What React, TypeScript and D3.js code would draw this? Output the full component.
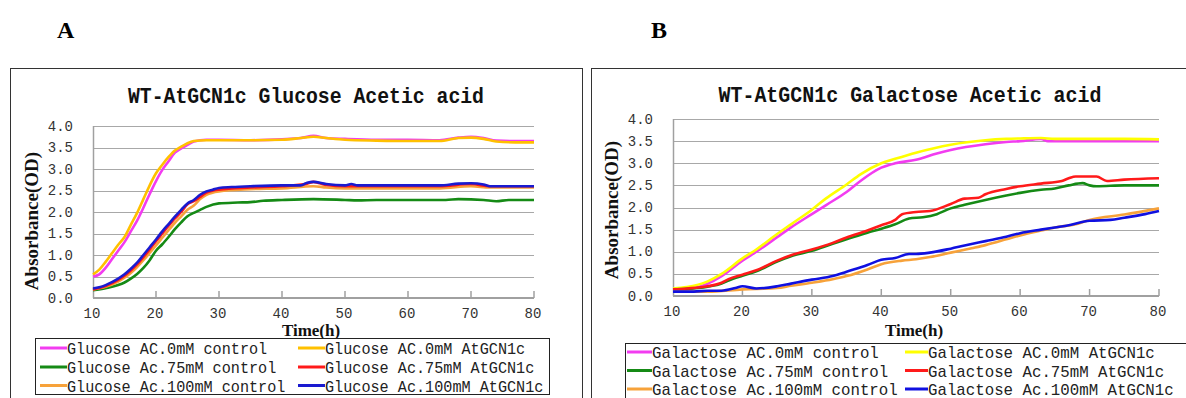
import React from 'react';
import * as d3 from 'd3';

type Pt = [number, number];

// ---------- Panel A: Glucose ----------
const gluAc0Control: Pt[] = [[10,0.5],[11,0.55],[12,0.7],[13,0.9],[14,1.1],[15,1.3],[16,1.55],[17,1.8],[18,2.1],[19,2.42],[20,2.72],[21,2.98],[22,3.18],[23,3.38],[24,3.48],[25,3.56],[26,3.64],[28,3.68],[30,3.68],[35,3.67],[40,3.69],[43,3.72],[45,3.77],[47,3.72],[50,3.7],[55,3.68],[60,3.68],[65,3.67],[68,3.73],[70,3.75],[72,3.72],[74,3.66],[77,3.65],[80,3.65]];
const gluAc0AtGCN1c: Pt[] = [[10,0.55],[11,0.66],[12,0.84],[13,1.04],[14,1.24],[15,1.42],[16,1.7],[17,1.98],[18,2.3],[19,2.62],[20,2.9],[21,3.1],[22,3.28],[23,3.43],[24,3.52],[25,3.6],[26,3.65],[28,3.67],[30,3.67],[35,3.67],[40,3.68],[43,3.72],[45,3.75],[47,3.72],[50,3.68],[55,3.66],[60,3.65],[65,3.65],[68,3.72],[70,3.73],[72,3.7],[74,3.64],[77,3.62],[80,3.62]];
const gluAc75Control: Pt[] = [[10,0.18],[12,0.23],[14,0.3],[15,0.36],[16,0.45],[17,0.56],[18,0.7],[19,0.88],[20,1.1],[21,1.25],[22,1.42],[23,1.6],[24,1.76],[25,1.9],[26,1.98],[27,2.05],[28,2.12],[30,2.2],[33,2.22],[35,2.23],[37,2.26],[40,2.28],[45,2.3],[50,2.28],[52,2.27],[55,2.28],[60,2.28],[66,2.28],[68,2.3],[72,2.28],[74,2.25],[76,2.28],[80,2.28]];
const gluAc75AtGCN1c: Pt[] = [[10,0.2],[12,0.28],[14,0.42],[15,0.52],[16,0.64],[17,0.78],[18,0.95],[19,1.13],[20,1.32],[21,1.5],[22,1.68],[23,1.85],[24,2.0],[25,2.18],[26,2.25],[27,2.35],[28,2.45],[30,2.52],[35,2.57],[40,2.6],[44,2.66],[45,2.7],[47,2.63],[50,2.6],[55,2.6],[60,2.6],[65,2.6],[70,2.65],[73,2.6],[80,2.6]];
const gluAc100Control: Pt[] = [[10,0.2],[12,0.26],[14,0.38],[15,0.47],[16,0.58],[17,0.72],[18,0.88],[19,1.05],[20,1.22],[21,1.4],[22,1.58],[23,1.75],[24,1.9],[25,2.05],[26,2.15],[27,2.3],[28,2.4],[30,2.48],[35,2.53],[40,2.55],[45,2.6],[47,2.57],[50,2.55],[60,2.55],[65,2.55],[70,2.6],[73,2.57],[80,2.57]];
const gluAc100AtGCN1c: Pt[] = [[10,0.22],[11,0.25],[12,0.3],[13,0.37],[14,0.45],[15,0.55],[16,0.68],[17,0.82],[18,1.0],[19,1.18],[20,1.36],[21,1.55],[22,1.72],[23,1.89],[24,2.05],[25,2.2],[26,2.28],[27,2.4],[28,2.48],[29,2.52],[30,2.56],[32,2.58],[35,2.6],[40,2.62],[43,2.62],[44,2.68],[45,2.7],[47,2.65],[50,2.62],[51,2.65],[52,2.62],[55,2.62],[60,2.62],[65,2.62],[68,2.66],[70,2.67],[72,2.64],[73,2.6],[76,2.6],[80,2.6]];

// ---------- Panel B: Galactose ----------
const galAc0Control: Pt[] = [[10,0.12],[12,0.15],[15,0.28],[17,0.45],[20,0.8],[22,1.0],[25,1.33],[27,1.55],[30,1.85],[32,2.05],[35,2.35],[37,2.6],[40,2.9],[42,3.0],[45,3.08],[48,3.22],[50,3.3],[55,3.43],[58,3.48],[60,3.5],[63,3.55],[64,3.5],[70,3.5],[80,3.5]];
const galAc0AtGCN1c: Pt[] = [[10,0.17],[12,0.2],[15,0.33],[17,0.5],[20,0.85],[22,1.05],[25,1.4],[27,1.62],[30,1.95],[32,2.2],[35,2.52],[37,2.75],[40,3.0],[42,3.1],[45,3.24],[50,3.42],[55,3.52],[58,3.55],[60,3.56],[63,3.57],[65,3.55],[70,3.55],[75,3.55],[80,3.54]];
const galAc75Control: Pt[] = [[10,0.15],[12,0.16],[15,0.21],[17,0.28],[18,0.35],[20,0.46],[22,0.56],[25,0.78],[27,0.9],[30,1.02],[33,1.18],[35,1.28],[38,1.43],[40,1.52],[42,1.62],[44,1.75],[46,1.78],[48,1.85],[50,1.98],[52,2.06],[55,2.17],[58,2.27],[60,2.33],[63,2.4],[65,2.43],[67,2.5],[69,2.55],[70,2.5],[71,2.48],[75,2.5],[80,2.5]];
const galAc75AtGCN1c: Pt[] = [[10,0.15],[12,0.17],[15,0.22],[17,0.3],[18,0.38],[20,0.48],[22,0.58],[25,0.8],[27,0.92],[30,1.05],[33,1.2],[35,1.32],[38,1.48],[40,1.6],[42,1.72],[43,1.85],[45,1.9],[47,1.92],[50,2.08],[52,2.2],[54,2.22],[55,2.3],[58,2.42],[60,2.48],[63,2.54],[66,2.6],[67,2.66],[68,2.7],[71,2.7],[72.5,2.6],[75,2.63],[80,2.66]];
const galAc100Control: Pt[] = [[10,0.1],[15,0.1],[20,0.15],[25,0.18],[27,0.23],[30,0.3],[33,0.38],[35,0.45],[38,0.6],[40,0.72],[43,0.8],[45,0.83],[47,0.88],[50,0.98],[53,1.08],[55,1.15],[58,1.28],[60,1.37],[63,1.48],[65,1.55],[68,1.62],[70,1.72],[75,1.84],[80,1.98]];
const galAc100AtGCN1c: Pt[] = [[10,0.1],[13,0.1],[15,0.12],[17,0.12],[19,0.18],[20,0.22],[22,0.17],[25,0.22],[27,0.28],[30,0.37],[33,0.45],[35,0.55],[38,0.7],[40,0.82],[42,0.86],[44,0.95],[45,0.95],[47,0.98],[50,1.07],[52,1.14],[55,1.24],[58,1.34],[60,1.42],[63,1.5],[65,1.55],[67,1.6],[70,1.7],[73,1.72],[75,1.77],[78,1.85],[80,1.92]];

const xTicks = [10, 20, 30, 40, 50, 60, 70, 80];
const yTicks = [0, 0.5, 1, 1.5, 2, 2.5, 3, 3.5, 4];

const gluLabels = [
  'Glucose AC.0mM control', 'Glucose AC.0mM AtGCN1c',
  'Glucose Ac.75mM control', 'Glucose Ac.75mM AtGCN1c',
  'Glucose Ac.100mM control', 'Glucose Ac.100mM AtGCN1c',
];
const galLabels = [
  'Galactose AC.0mM control', 'Galactose AC.0mM AtGCN1c',
  'Galactose Ac.75mM control', 'Galactose Ac.75mM AtGCN1c',
  'Galactose Ac.100mM control', 'Galactose Ac.100mM AtGCN1c',
];

const colorsA = ['#f23cf0', '#ffc000', '#158a15', '#ff1a1a', '#f7a23a', '#1a1ad0'];
const colorsB = ['#f23cf0', '#ffff00', '#158a15', '#ff1a1a', '#f7a23a', '#1010e0'];

const MONO = '"Liberation Mono", "DejaVu Sans Mono", monospace';
const SERIF = '"Liberation Serif", "DejaVu Serif", serif';

interface PanelCfg {
  frame: { x: number; y: number; w: number; h: number };
  plot: { left: number; right: number; top: number; bottom: number };
  title: string; titleX: number; titleY: number; titleSize: number; titleLen: number;
  ylabX: number; ylabY: number;
  yTickRight: number; xTickBase: number;
  xlabX: number; xlabY: number;
  legend: { x: number; y: number; w: number; h: number; rows: number[]; c1: [number, number]; c2: [number, number]; size: number; charW: number };
  series: Pt[][]; labels: string[]; colors: string[]; order: number[];
}

function Panel({ cfg }: { cfg: PanelCfg }) {
  const { plot } = cfg;
  const x = d3.scaleLinear().domain([10, 80]).range([plot.left, plot.right]);
  const y = d3.scaleLinear().domain([0, 4]).range([plot.bottom, plot.top]);
  const line = d3.line<Pt>().x(d => x(d[0])).y(d => y(d[1])).curve(d3.curveMonotoneX);
  const lg = cfg.legend;
  return (
    <g>
      <rect x={cfg.frame.x + 0.5} y={cfg.frame.y + 0.5} width={cfg.frame.w} height={cfg.frame.h} fill="#fff" stroke="#333" strokeWidth={1} />
      <text x={cfg.titleX} y={cfg.titleY} textAnchor="middle" fontFamily={MONO} fontWeight="bold" fontSize={cfg.titleSize} fill="#111"
        textLength={cfg.titleLen} lengthAdjust="spacingAndGlyphs">{cfg.title}</text>
      {yTicks.slice(1).map(t => (
        <line key={'g' + t} x1={plot.left} x2={plot.right} y1={Math.round(y(t)) + 0.5} y2={Math.round(y(t)) + 0.5} stroke="#a8a8a8" strokeWidth={1} />
      ))}
      <line x1={plot.left + 0.5} x2={plot.left + 0.5} y1={y(4)} y2={plot.bottom} stroke="#a0a0a0" strokeWidth={1.5} />
      <line x1={plot.left} x2={plot.right} y1={plot.bottom} y2={plot.bottom} stroke="#a0a0a0" strokeWidth={2} />
      {xTicks.slice(1).map(t => (
        <line key={'t' + t} x1={x(t)} x2={x(t)} y1={plot.bottom} y2={plot.bottom - 7} stroke="#a0a0a0" strokeWidth={1.5} />
      ))}
      {yTicks.map(t => (
        <text key={'yl' + t} x={cfg.yTickRight} y={y(t) + 4.5} textAnchor="end" fontFamily={MONO} fontSize={14} fill="#333">{t.toFixed(1)}</text>
      ))}
      {xTicks.map(t => (
        <text key={'xl' + t} x={x(t) - 1} y={cfg.xTickBase} textAnchor="middle" fontFamily={MONO} fontSize={14} fill="#333">{t}</text>
      ))}
      <text transform={`translate(${cfg.ylabX},${cfg.ylabY}) rotate(-90)`} textAnchor="middle" fontFamily={SERIF} fontWeight="bold" fontSize={19} fill="#111">Absorbance(OD)</text>
      <text x={cfg.xlabX} y={cfg.xlabY} textAnchor="middle" fontFamily={SERIF} fontWeight="bold" fontSize={17} fill="#111">Time(h)</text>
      {cfg.order.map(i => (
        <path key={'s' + i} d={line(cfg.series[i]) || ''} fill="none" stroke={cfg.colors[i]} strokeWidth={2.6} strokeLinejoin="round" />
      ))}
      <rect x={lg.x + 0.5} y={lg.y + 0.5} width={lg.w} height={lg.h} fill="#fff" stroke="#222" strokeWidth={1} />
      {cfg.labels.map((lab, i) => {
        const col = i % 2 === 0 ? lg.c1 : lg.c2;
        const row = lg.rows[Math.floor(i / 2)];
        return (
          <g key={'lg' + i}>
            <line x1={col[0]} x2={col[1]} y1={row - 6} y2={row - 6} stroke={cfg.colors[i]} strokeWidth={3} />
            <text x={col[1]} y={row} fontFamily={MONO} fontSize={lg.size} fill="#222"
              textLength={lab.length * lg.charW} lengthAdjust="spacingAndGlyphs">{lab}</text>
          </g>
        );
      })}
    </g>
  );
}

const panelA: PanelCfg = {
  frame: { x: 10, y: 68, w: 572, h: 360 },
  plot: { left: 93, right: 534, top: 126, bottom: 298 },
  title: 'WT-AtGCN1c Glucose Acetic acid', titleX: 306, titleY: 103, titleSize: 21.5, titleLen: 356,
  ylabX: 38, ylabY: 221, yTickRight: 73, xTickBase: 318, xlabX: 311, xlabY: 336,
  legend: { x: 35, y: 338, w: 514, h: 56, rows: [354, 373, 391.5], c1: [40, 67], c2: [298, 325], size: 16.5, charW: 9.1 },
  series: [gluAc0Control, gluAc0AtGCN1c, gluAc75Control, gluAc75AtGCN1c, gluAc100Control, gluAc100AtGCN1c],
  labels: gluLabels, colors: colorsA, order: [0, 1, 2, 4, 3, 5],
};

const panelB: PanelCfg = {
  frame: { x: 591, y: 68, w: 620, h: 360 },
  plot: { left: 673, right: 1159, top: 119, bottom: 296 },
  title: 'WT-AtGCN1c Galactose Acetic acid', titleX: 910, titleY: 102, titleSize: 21.5, titleLen: 383,
  ylabX: 618, ylabY: 210, yTickRight: 653, xTickBase: 316, xlabX: 914, xlabY: 336,
  legend: { x: 625, y: 343, w: 600, h: 70, rows: [358, 376.5, 395], c1: [627, 652], c2: [905, 928], size: 17, charW: 9.45 },
  series: [galAc0Control, galAc0AtGCN1c, galAc75Control, galAc75AtGCN1c, galAc100Control, galAc100AtGCN1c],
  labels: galLabels, colors: colorsB, order: [0, 1, 2, 3, 4, 5],
};

export default function App() {
  return (
    <svg width={1186} height={398} style={{ position: 'absolute', left: 0, top: 0, background: '#fff' }}>
      <rect x={0} y={0} width={1186} height={398} fill="#fff" />
      <text x={57} y={38} fontFamily={SERIF} fontWeight="bold" fontSize={24} fill="#000">A</text>
      <text x={651} y={38} fontFamily={SERIF} fontWeight="bold" fontSize={24} fill="#000">B</text>
      <Panel cfg={panelA} />
      <Panel cfg={panelB} />
    </svg>
  );
}
